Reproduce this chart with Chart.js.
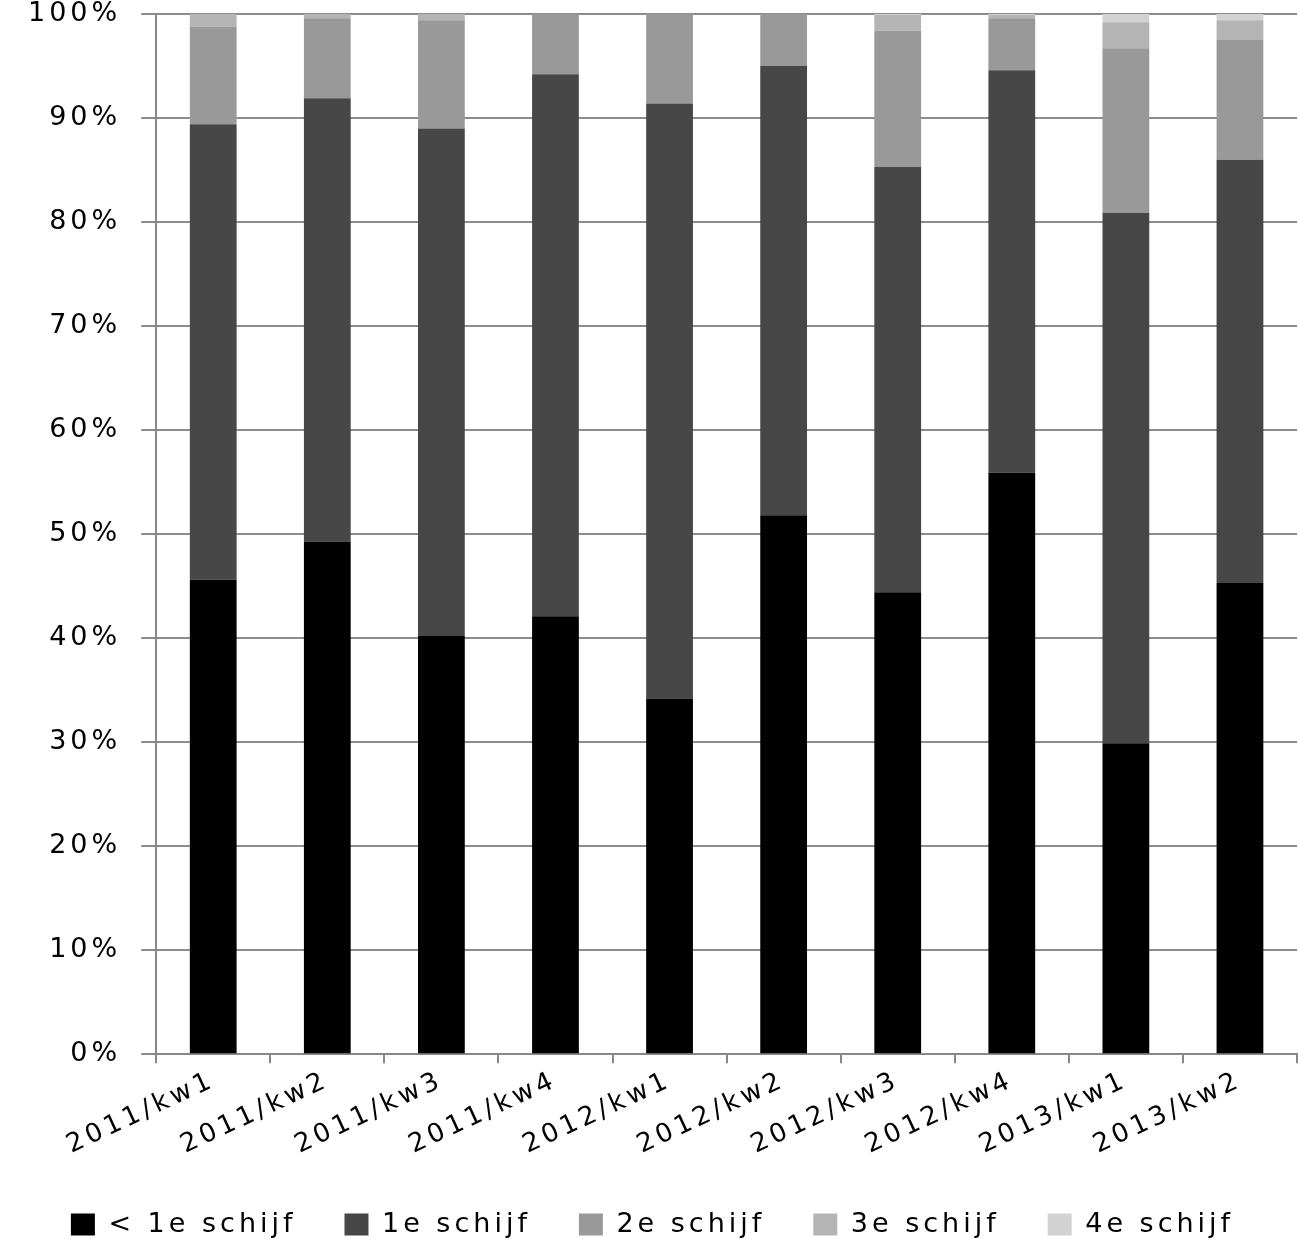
<!DOCTYPE html>
<html>
<head>
<meta charset="utf-8">
<script src="https://cdn.jsdelivr.net/npm/chart.js@4"></script>
<style>
  html, body { margin: 0; padding: 0; background: #fff; }
  #wrap { width: 1299px; height: 1239px; }
</style>
</head>
<body>
<div id="wrap"><canvas id="chart"></canvas></div>
<script>
const categories = [
  "2011/kw1", "2011/kw2", "2011/kw3", "2011/kw4",
  "2012/kw1", "2012/kw2", "2012/kw3", "2012/kw4",
  "2013/kw1", "2013/kw2",
];

// share per bracket, percent
const belowFirst = [45.6, 49.3, 40.2, 42.1, 34.2, 51.8, 44.4, 55.9, 29.9, 45.3];
const first      = [43.8, 42.6, 48.8, 52.1, 57.2, 43.2, 40.9, 38.7, 51.0, 40.7];
const second     = [9.4, 7.7, 10.4, 5.8, 8.6, 5.0, 13.1, 5.0, 15.8, 11.5];
const third      = [1.2, 0.4, 0.6, 0, 0, 0, 1.5, 0.3, 2.5, 1.9];
const fourth     = [0, 0, 0, 0, 0, 0, 0.1, 0.1, 0.8, 0.6];

const yTicks = [0, 10, 20, 30, 40, 50, 60, 70, 80, 90, 100];

const font = "'DejaVu Sans', Verdana, sans-serif";

const ctx = document.getElementById("chart").getContext("2d");

// the original text is drawn wide, spread the letters a bit
const wideText = {
  id: "wideText",
  beforeUpdate(chart) { chart.ctx.letterSpacing = "4px"; },
  beforeDraw(chart) { chart.ctx.letterSpacing = "4px"; },
};

function series(label, data, color) {
  return {
    label: label,
    data: data,
    backgroundColor: color,
    borderWidth: 0,
    barPercentage: 0.41,
    categoryPercentage: 1,
  };
}

new Chart(ctx, {
  type: "bar",
  data: {
    labels: categories,
    datasets: [
      series("< 1e schijf", belowFirst, "#000000"),
      series("1e schijf", first, "#474747"),
      series("2e schijf", second, "#999999"),
      series("3e schijf", third, "#b4b4b4"),
      series("4e schijf", fourth, "#d2d2d2"),
    ],
  },
  plugins: [wideText],
  options: {
    responsive: true,
    maintainAspectRatio: false,
    animation: false,
    layout: {
      padding: { left: 8, right: 2, top: 14, bottom: -9 },
    },
    plugins: {
      tooltip: { enabled: false },
      legend: {
        position: "bottom",
        labels: {
          color: "#000",
          font: { family: font, size: 27 },
          boxWidth: 24,
          boxHeight: 22,
          padding: 48,
        },
      },
    },
    scales: {
      x: {
        stacked: true,
        grid: {
          display: true,
          drawOnChartArea: false,
          drawTicks: true,
          tickLength: 9,
          color: "#888",
          lineWidth: 2,
        },
        border: { color: "#888", width: 2 },
        ticks: {
          color: "#000",
          font: { family: font, size: 26 },
          minRotation: 25,
          maxRotation: 25,
          padding: 2,
        },
      },
      y: {
        stacked: true,
        min: 0,
        max: 100,
        afterBuildTicks: (axis) => {
          axis.ticks = yTicks.map((v) => ({ value: v }));
        },
        afterFit: (axis) => {
          axis.paddingTop = 0;
        },
        grid: {
          color: "#8c8c8c",
          lineWidth: 2,
          tickLength: 15,
        },
        border: { color: "#888", width: 2 },
        ticks: {
          color: "#000",
          font: { family: font, size: 27 },
          padding: 20,
          callback: (v) => v + "%",
        },
      },
    },
  },
});
</script>
</body>
</html>
